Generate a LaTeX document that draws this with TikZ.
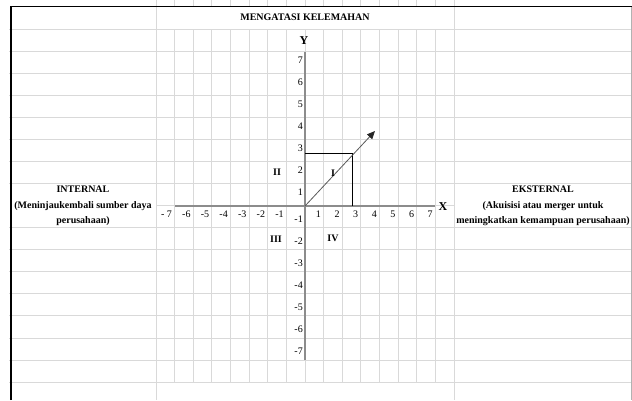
\documentclass[tikz,border=0pt]{standalone}
\usepackage{fontspec}
\setmainfont{Liberation Serif}
\usetikzlibrary{arrows.meta}

\newcommand*{\colw}{18.625}
\newcommand*{\rowh}{22.06}
\newcommand*{\ox}{305}
\newcommand*{\oy}{206}

\begin{document}
\begin{tikzpicture}
[
	x=1pt,
	y=-1pt,
	gridline/.style={draw=black!15,line width=0.8pt},
	axisline/.style={draw=black!45,line width=2pt},
	boldlabel/.style={font=\bfseries\fontsize{10}{15.5}\selectfont,align=center,inner sep=0pt},
	axislabel/.style={font=\bfseries\fontsize{12}{14}\selectfont,inner sep=0pt},
	ticklabel/.style={font=\fontsize{10}{12}\selectfont,inner sep=0pt,anchor=base east}
]
	\useasboundingbox (0,0) rectangle (632,400);

	% sheet grid
	\foreach \i in {1,...,8,10,11,...,17} {
		\draw[gridline] (9,{7+\i*\rowh}) -- (631,{7+\i*\rowh});
	}
	\draw[gridline] (156,{7+9*\rowh}) -- (454,{7+9*\rowh});
	\foreach \j in {1,...,15} {
		\draw[gridline] ({156+\j*\colw},0) -- ({156+\j*\colw},7);
		\draw[gridline] ({156+\j*\colw},29) -- ({156+\j*\colw},382);
	}
	\draw[gridline] (156,0) -- (156,400);
	\draw[gridline] (454,0) -- (454,400);
	\draw[draw=black!30,line width=1pt] (631,7) -- (631,400);

	% border
	\draw[black,line width=1.5pt] (11,400) -- (11,6.5) -- (632,6.5);

	% axes
	\coordinate (O) at (\ox,\oy);
	\draw[axisline] ({\ox-7*\colw},\oy) -- ({\ox+7*\colw},\oy);
	\draw[axisline] (\ox,{\oy-7*\rowh}) -- (\ox,{\oy+7*\rowh});
	\node[axislabel] (xlab) at (443,207) {X};
	\node[axislabel] (ylab) at (304,41) {Y};

	% tick labels
	\foreach \k in {1,...,7} {
		\node[ticklabel] (xp\k) at ({\ox+\k*\colw-2.5},217.5) {\k};
		\node[ticklabel] (yp\k) at (303,{\oy-\k*\rowh+11.5}) {\k};
		\node[ticklabel] (yn\k) at (303,{\oy+\k*\rowh-5.5}) {-\k};
	}
	\foreach \k in {1,...,6} {
		\node[ticklabel] (xn\k) at ({\ox-\k*\colw-2.5},217.5) {-\k};
	}
	\node[ticklabel] (xn7) at ({\ox-7*\colw-2.5},217.5) {- 7};

	% box and arrow
	\coordinate (corner) at (352.7,153.7);
	\coordinate (tip) at (375,131);
	\draw[black,line width=1.5pt] (O |- corner) -- (corner) -- (corner |- O);
	\draw[black!65,line width=0.8pt,-{Triangle[length=8pt,width=7pt,color=black!85]}] (O) -- (tip);

	% quadrants
	\node[boldlabel] (q1) at (333,173) {I};
	\node[boldlabel] (q2) at (277,172) {II};
	\node[boldlabel] (q3) at (276,239) {III};
	\node[boldlabel] (q4) at (333,238) {IV};

	% titles
	\node[boldlabel] (title) at (305,17.5) {MENGATASI KELEMAHAN};
	\node[boldlabel] (internal) at (83,206) {INTERNAL\\(Meninjaukembali sumber daya\\perusahaan)};
	\node[boldlabel] (eksternal) at (543,206) {EKSTERNAL\\(Akuisisi atau merger untuk\\meningkatkan kemampuan perusahaan)};

\end{tikzpicture}
\end{document}
